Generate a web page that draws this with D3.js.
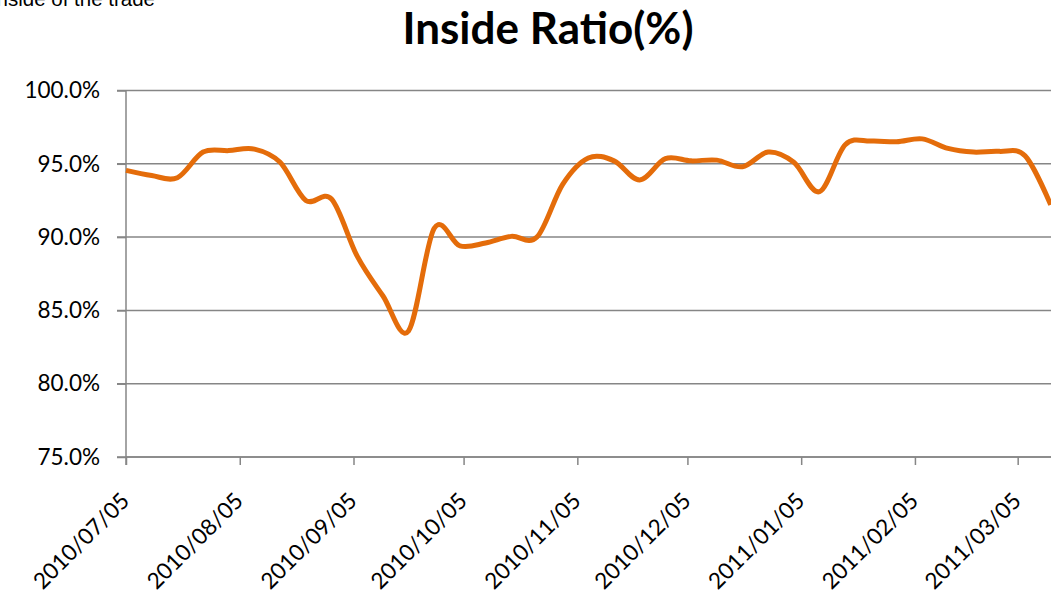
<!DOCTYPE html>
<html>
<head>
<meta charset="utf-8">
<script src="https://cdn.jsdelivr.net/npm/d3@7"></script>
<style>
  body { margin: 0; background: #fff; }
  svg { display: block; }
</style>
</head>
<body>
<svg id="chart" width="1051" height="594"></svg>
<script>
// weekly observations
const dates = [
  "2010-07-05", "2010-07-12", "2010-07-19", "2010-07-26", "2010-08-02", "2010-08-09",
  "2010-08-16", "2010-08-23", "2010-08-30", "2010-09-06", "2010-09-13", "2010-09-20",
  "2010-09-27", "2010-10-04", "2010-10-11", "2010-10-18", "2010-10-25", "2010-11-01",
  "2010-11-08", "2010-11-15", "2010-11-22", "2010-11-29", "2010-12-06", "2010-12-13",
  "2010-12-20", "2010-12-27", "2011-01-03", "2011-01-10", "2011-01-17", "2011-01-24",
  "2011-01-31", "2011-02-07", "2011-02-14", "2011-02-21", "2011-02-28", "2011-03-07",
  "2011-03-14"
];
const insideRatio = [
  94.55, 94.2, 94.05, 95.8, 95.9, 96.0,
  95.1, 92.5, 92.6, 88.7, 86.0, 83.6,
  90.6, 89.4, 89.6, 90.05, 90.0, 93.6,
  95.4, 95.2, 93.9, 95.35, 95.2, 95.25,
  94.8, 95.8, 95.1, 93.1, 96.3, 96.55,
  96.5, 96.7, 96.05, 95.8, 95.85, 95.55,
  92.2
];
const xTicks = ["2010/07/05", "2010/08/05", "2010/09/05", "2010/10/05", "2010/11/05",
  "2010/12/05", "2011/01/05", "2011/02/05", "2011/03/05"];
const yTicks = [75, 80, 85, 90, 95, 100];

const parse = d3.timeParse("%Y-%m-%d");
const parseTick = d3.timeParse("%Y/%m/%d");
const data = dates.map((d, i) => ({ date: parse(d), value: insideRatio[i] }));

const svg = d3.select("#chart");
const plotLeft = 126, plotRight = 1051, plotTop = 90.5, plotBottom = 457;
const grey = "#868686";

const x = d3.scaleTime()
  .domain([parse("2010-07-05"), parse("2011-03-14")])
  .range([plotLeft, 1050.7]);
const y = d3.scaleLinear().domain([75, 100]).range([plotBottom, plotTop]);

// gridlines
svg.append("g").selectAll("line")
  .data(yTicks)
  .join("line")
  .attr("x1", plotLeft - 9).attr("x2", plotRight)
  .attr("y1", d => y(d)).attr("y2", d => y(d))
  .attr("stroke", grey).attr("stroke-width", 1.5);

// y axis
const yAxis = svg.append("g")
  .attr("transform", `translate(${plotLeft},0)`)
  .call(d3.axisLeft(y).tickValues(yTicks).tickSize(9).tickPadding(17)
    .tickFormat(d => d.toFixed(1) + "%"));
yAxis.select(".domain").remove();
yAxis.selectAll("line").attr("stroke", grey).attr("stroke-width", 1.5);
yAxis.selectAll("text")
  .attr("font-family", "Lato, sans-serif").attr("font-size", 22.5).attr("fill", "#000");
svg.append("line")
  .attr("x1", plotLeft).attr("x2", plotLeft).attr("y1", plotTop).attr("y2", plotBottom + 8)
  .attr("stroke", grey).attr("stroke-width", 1.5);

// x axis
const xAxis = svg.append("g")
  .attr("transform", `translate(0,${plotBottom})`)
  .call(d3.axisBottom(x).tickValues(xTicks.map(parseTick)).tickSize(8).tickSizeOuter(0)
    .tickFormat(d3.timeFormat("%Y/%m/%d")));
xAxis.select(".domain").attr("stroke", grey).attr("stroke-width", 1.5)
  .attr("d", `M${plotLeft},0H${plotRight}`);
xAxis.selectAll("line").attr("stroke", grey).attr("stroke-width", 1.5);
xAxis.selectAll("text")
  .attr("font-family", "Lato, sans-serif").attr("font-size", 22.5).attr("fill", "#000")
  .attr("text-anchor", "end")
  .attr("dy", "0.35em")
  .attr("transform", "translate(-9,32) rotate(-45)");

// line
svg.append("path")
  .datum(data)
  .attr("fill", "none")
  .attr("stroke", "#E46C0A")
  .attr("stroke-width", 5)
  .attr("stroke-linejoin", "round")
  .attr("d", d3.line().x(d => x(d.date)).y(d => y(d.value)).curve(d3.curveCardinal.tension(0)));

// title
svg.append("text")
  .attr("x", 548).attr("y", 44)
  .attr("text-anchor", "middle")
  .attr("font-family", "Lato, sans-serif").attr("font-weight", "bold").attr("font-size", 44)
  .text("Inside Ratio(%)");

// cut-off caption at top left
svg.append("text")
  .attr("x", 155).attr("y", 6)
  .attr("text-anchor", "end")
  .attr("font-family", "Liberation Sans, Arial, sans-serif").attr("font-size", 20.5)
  .attr("fill", "#000")
  .text("Inside of the trade");
</script>
</body>
</html>
